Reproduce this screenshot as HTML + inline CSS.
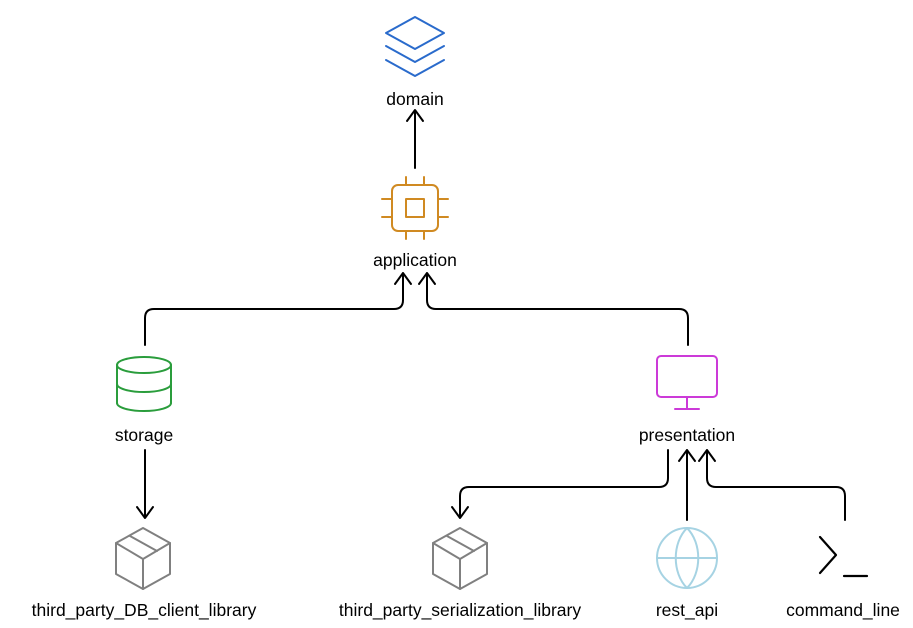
<!DOCTYPE html>
<html><head><meta charset="utf-8"><style>
html,body{margin:0;padding:0;background:#fff;}
svg{display:block;}
text{font-family:"Liberation Sans",sans-serif;font-size:17.5px;fill:#000;text-anchor:middle;}
</style></head><body>
<svg width="913" height="628" viewBox="0 0 913 628" xmlns="http://www.w3.org/2000/svg">
<g fill="none" stroke-width="2" stroke-linecap="round" stroke-linejoin="round">
<g stroke="#2a6bcc">
<path d="M386 33 L415 17 L444 33 L415 49 Z"/>
<path d="M386 46 L415 62 L444 46"/>
<path d="M386 60 L415 76 L444 60"/>
</g>
<g stroke="#d08a22">
<rect x="392" y="185" width="46" height="46" rx="6"/>
<rect x="406" y="199" width="18" height="18"/>
<path d="M406 177v8M424 177v8M406 231v8M424 231v8M382 199h10M382 217h10M438 199h10M438 217h10"/>
</g>
<g stroke="#2a9d3c">
<ellipse cx="144" cy="365" rx="27" ry="8"/>
<path d="M117 365v38M171 365v38"/>
<path d="M117 384a27 8 0 0 0 54 0"/>
<path d="M117 403a27 8 0 0 0 54 0"/>
</g>
<g stroke="#cc3ad8">
<rect x="657" y="356" width="60" height="41" rx="4"/>
<path d="M687 397v12M675 409h24"/>
</g>
<g stroke="#808080">
<path d="M143 528 L170 543 L170 574 L143 589 L116 574 L116 543 Z"/>
<path d="M116 543 L143 559 L170 543 M143 559 V589"/>
<path d="M130 536 L157 551"/>
<path d="M460 528 L487 543 L487 574 L460 589 L433 574 L433 543 Z"/>
<path d="M433 543 L460 559 L487 543 M460 559 V589"/>
<path d="M447 536 L474 551"/>
</g>
<g stroke="#a6d3e3">
<circle cx="687" cy="558" r="30"/>
<path d="M657 558h60"/>
<path d="M687 528 C672 543 672 573 687 588 C702 573 702 543 687 528Z"/>
</g>
<g stroke="#000" stroke-width="2.2">
<path d="M820 537 L836 555 L820 573"/>
<path d="M844 576h23"/>
</g>
<g stroke="#000" stroke-width="2">
<path d="M415 168 V111 M407 121 L415 110 L423 121"/>
<path d="M145 345 V318 Q145 309 154 309 H394 Q403 309 403 300 V273 M395 284 L403 273 L411 284"/>
<path d="M688 345 V318 Q688 309 679 309 H436 Q427 309 427 300 V273 M419 284 L427 273 L435 284"/>
<path d="M145 450 V518 M137 507 L145 518 L153 507"/>
<path d="M668 450 V478 Q668 487 659 487 H469 Q460 487 460 496 V518 M452 507 L460 518 L468 507"/>
<path d="M687 520 V450 M679 461 L687 450 L695 461"/>
<path d="M845 520 V496 Q845 487 836 487 H716 Q707 487 707 478 V450 M699 461 L707 450 L715 461"/>
</g>
</g>
<text x="415" y="105">domain</text>
<text x="415" y="266">application</text>
<text x="144" y="441">storage</text>
<text x="687" y="441">presentation</text>
<text x="144" y="616">third_party_DB_client_library</text>
<text x="460" y="616">third_party_serialization_library</text>
<text x="687" y="616">rest_api</text>
<text x="843" y="616">command_line</text>
</svg>
</body></html>
